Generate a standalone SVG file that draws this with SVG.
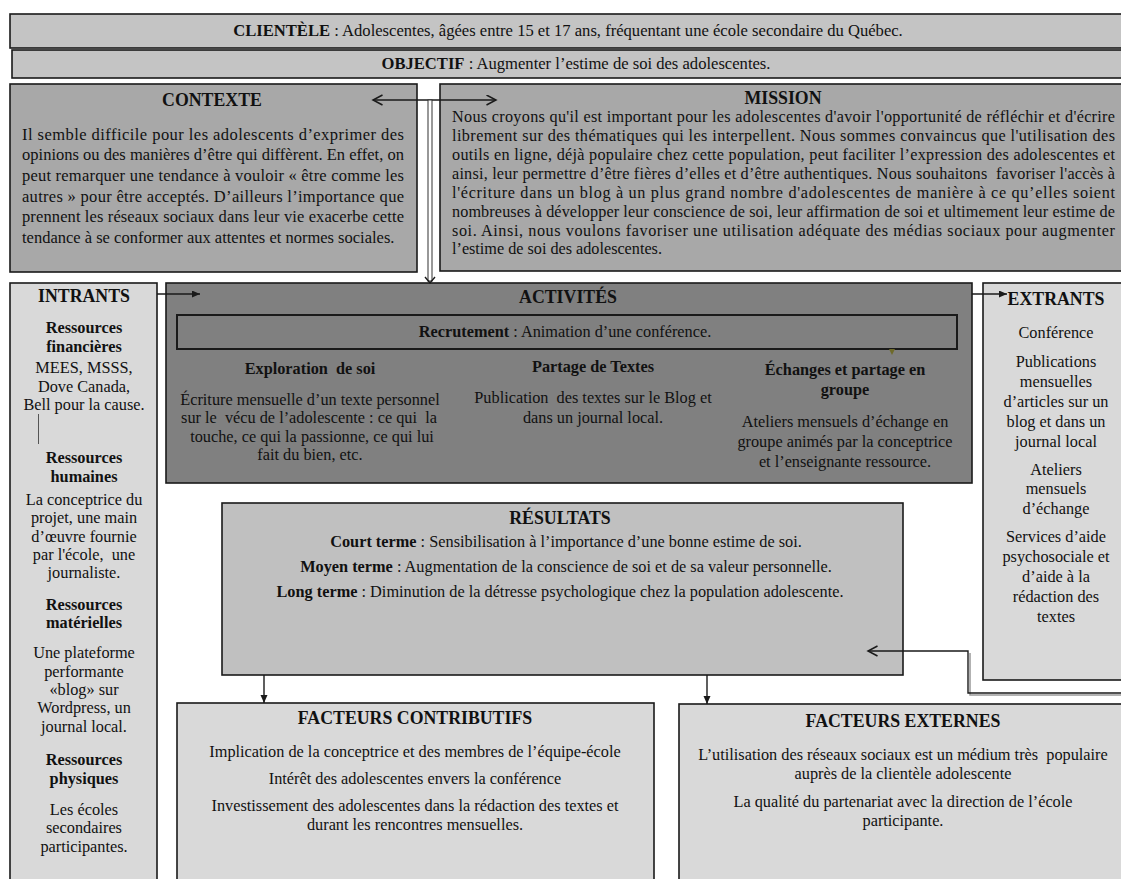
<svg xmlns="http://www.w3.org/2000/svg" width="1121" height="879" viewBox="0 0 1121 879">
<style>
text { font-family: "Liberation Serif", "Times New Roman", serif; fill: #111; white-space: pre; }
.h { font-weight: bold; font-size: 17.8px; }
.t { font-size: 16.3px; }
.tt { font-size: 16.6px; }
.m { font-size: 16.2px; }
.c { font-size: 16.5px; }
.sb { font-weight: bold; font-size: 16.3px; }
.mid { text-anchor: middle; }
.bold { font-weight: bold; }
.box { stroke: #1a1a1a; stroke-width: 1.6; }
.conn { stroke: #1a1a1a; stroke-width: 1.4; fill: none; }
</style>
<defs>
<marker id="fill" markerUnits="userSpaceOnUse" markerWidth="9" markerHeight="8" refX="8" refY="3.5" orient="auto">
<path d="M0,0 L8,3.5 L0,7 z" fill="#1a1a1a"/>
</marker>
<marker id="open" markerUnits="userSpaceOnUse" markerWidth="12" markerHeight="12" refX="10" refY="5.5" orient="auto-start-reverse">
<path d="M0.5,0.5 L10,5.5 L0.5,10.5" fill="none" stroke="#1a1a1a" stroke-width="1.5"/>
</marker>
</defs>
<rect width="1121" height="879" fill="#ffffff"/>

<g id="clientele">
<rect class="box" x="10" y="14" width="1120" height="34" fill="#c4c4c4"/>
<text class="tt mid" x="568" y="36"><tspan class="bold">CLIENTÈLE</tspan> : Adolescentes, âgées entre 15 et 17 ans, fréquentant une école secondaire du Québec.</text>
</g>

<g id="objectif">
<rect class="box" x="12" y="50" width="1120" height="28" fill="#c4c4c4"/>
<text class="tt mid" x="576" y="69"><tspan class="bold">OBJECTIF</tspan> : Augmenter l’estime de soi des adolescentes.</text>
</g>

<g id="contexte">
<rect class="box" x="10" y="84" width="407" height="188" fill="#a8a8a8"/>
<text class="h mid" x="212" y="106">CONTEXTE</text>
<text class="c" x="22" y="140" textLength="382" lengthAdjust="spacing">Il semble difficile pour les adolescents d’exprimer des</text>
<text class="c" x="22" y="160" textLength="382" lengthAdjust="spacing">opinions ou des manières d’être qui diffèrent. En effet, on</text>
<text class="c" x="22" y="181" textLength="382" lengthAdjust="spacing">peut remarquer une tendance à vouloir « être comme les</text>
<text class="c" x="22" y="202" textLength="382" lengthAdjust="spacing">autres » pour être acceptés. D’ailleurs l’importance que</text>
<text class="c" x="22" y="222" textLength="382" lengthAdjust="spacing">prennent les réseaux sociaux dans leur vie exacerbe cette</text>
<text class="c" x="22" y="243">tendance à se conformer aux attentes et normes sociales.</text>
</g>

<g id="mission">
<rect class="box" x="440" y="84" width="690" height="187" fill="#a8a8a8"/>
<text class="h mid" x="783" y="104">MISSION</text>
<text class="m" x="452" y="122" textLength="663" lengthAdjust="spacing">Nous croyons qu'il est important pour les adolescentes d'avoir l'opportunité de réfléchir et d'écrire</text>
<text class="m" x="452" y="141" textLength="663" lengthAdjust="spacing">librement sur des thématiques qui les interpellent. Nous sommes convaincus que l'utilisation des</text>
<text class="m" x="452" y="160" textLength="663" lengthAdjust="spacing">outils en ligne, déjà populaire chez cette population, peut faciliter l’expression des adolescentes et</text>
<text class="m" x="452" y="179" textLength="663" lengthAdjust="spacing">ainsi, leur permettre d’être fières d’elles et d’être authentiques. Nous souhaitons  favoriser l'accès à</text>
<text class="m" x="452" y="198" textLength="663" lengthAdjust="spacing">l'écriture dans un blog à un plus grand nombre d'adolescentes de manière à ce qu’elles soient</text>
<text class="m" x="452" y="217" textLength="663" lengthAdjust="spacing">nombreuses à développer leur conscience de soi, leur affirmation de soi et ultimement leur estime de</text>
<text class="m" x="452" y="236" textLength="663" lengthAdjust="spacing">soi. Ainsi, nous voulons favoriser une utilisation adéquate des médias sociaux pour augmenter</text>
<text class="m" x="452" y="254">l’estime de soi des adolescentes.</text>
</g>

<g id="intrants">
<rect class="box" x="10" y="283" width="147" height="610" fill="#d9d9d9"/>
<text class="h mid" x="84" y="302">INTRANTS</text>
<text class="sb mid" x="84" y="333">Ressources</text>
<text class="sb mid" x="84" y="352">financières</text>
<text class="t mid" x="84" y="373">MEES, MSSS,</text>
<text class="t mid" x="84" y="392">Dove Canada,</text>
<text class="t mid" x="84" y="410">Bell pour la cause.</text>
<line x1="38.5" y1="414" x2="38.5" y2="444" stroke="#555" stroke-width="1"/>
<text class="sb mid" x="84" y="463">Ressources</text>
<text class="sb mid" x="84" y="482">humaines</text>
<text class="t mid" x="84" y="505">La conceptrice du</text>
<text class="t mid" x="84" y="523">projet, une main</text>
<text class="t mid" x="84" y="542">d’œuvre fournie</text>
<text class="t mid" x="84" y="560">par l'école,  une</text>
<text class="t mid" x="84" y="578">journaliste.</text>
<text class="sb mid" x="84" y="610">Ressources</text>
<text class="sb mid" x="84" y="628">matérielles</text>
<text class="t mid" x="84" y="658">Une plateforme</text>
<text class="t mid" x="84" y="677">performante</text>
<text class="t mid" x="84" y="695">«blog» sur</text>
<text class="t mid" x="84" y="713">Wordpress, un</text>
<text class="t mid" x="84" y="732">journal local.</text>
<text class="sb mid" x="84" y="765">Ressources</text>
<text class="sb mid" x="84" y="784">physiques</text>
<text class="t mid" x="84" y="815">Les écoles</text>
<text class="t mid" x="84" y="833">secondaires</text>
<text class="t mid" x="84" y="852">participantes.</text>
</g>

<g id="activites">
<rect class="box" x="166" y="283" width="806" height="200" fill="#808080"/>
<text class="h mid" x="568" y="303">ACTIVITÉS</text>
<rect x="177" y="315" width="780" height="34" fill="none" stroke="#1a1a1a" stroke-width="2"/>
<text class="t mid" x="565" y="337"><tspan class="bold">Recrutement</tspan> : Animation d’une conférence.</text>
<polygon points="889,349 895,349 892,355" fill="#6e6a2a"/>
<text class="sb mid" x="310" y="374">Exploration  de soi</text>
<text class="t mid" x="310" y="405">Écriture mensuelle d’un texte personnel</text>
<text class="t mid" x="309" y="423">sur le  vécu de l’adolescente : ce qui  la</text>
<text class="t mid" x="312" y="442">touche, ce qui la passionne, ce qui lui</text>
<text class="t mid" x="310" y="460">fait du bien, etc.</text>
<text class="sb mid" x="593" y="372">Partage de Textes</text>
<text class="t mid" x="593" y="403">Publication  des textes sur le Blog et</text>
<text class="t mid" x="593" y="423">dans un journal local.</text>
<text class="sb mid" x="845" y="375">Échanges et partage en</text>
<text class="sb mid" x="845" y="395">groupe</text>
<text class="t mid" x="845" y="427">Ateliers mensuels d’échange en</text>
<text class="t mid" x="845" y="447">groupe animés par la conceptrice</text>
<text class="t mid" x="845" y="467">et l’enseignante ressource.</text>
</g>

<g id="extrants">
<rect class="box" x="983" y="283" width="150" height="397" fill="#d9d9d9"/>
<text class="h mid" x="1056" y="305">EXTRANTS</text>
<text class="t mid" x="1056" y="338">Conférence</text>
<text class="t mid" x="1056" y="367">Publications</text>
<text class="t mid" x="1056" y="387">mensuelles</text>
<text class="t mid" x="1056" y="407">d’articles sur un</text>
<text class="t mid" x="1056" y="427">blog et dans un</text>
<text class="t mid" x="1056" y="447">journal local</text>
<text class="t mid" x="1056" y="475">Ateliers</text>
<text class="t mid" x="1056" y="494">mensuels</text>
<text class="t mid" x="1056" y="514">d’échange</text>
<text class="t mid" x="1056" y="542">Services d’aide</text>
<text class="t mid" x="1056" y="562">psychosociale et</text>
<text class="t mid" x="1056" y="582">d’aide à la</text>
<text class="t mid" x="1056" y="602">rédaction des</text>
<text class="t mid" x="1056" y="622">textes</text>
</g>

<g id="resultats">
<rect class="box" x="222" y="503" width="681" height="172" fill="#c0c0c0"/>
<text class="h mid" x="560" y="524">RÉSULTATS</text>
<text class="t mid" x="566" y="547"><tspan class="bold">Court terme</tspan> : Sensibilisation à l’importance d’une bonne estime de soi.</text>
<text class="t mid" x="566" y="572"><tspan class="bold">Moyen terme</tspan> : Augmentation de la conscience de soi et de sa valeur personnelle.</text>
<text class="t mid" x="560" y="597"><tspan class="bold">Long terme</tspan> : Diminution de la détresse psychologique chez la population adolescente.</text>
</g>

<g id="facteurs-contributifs">
<rect class="box" x="177" y="703" width="477" height="190" fill="#d9d9d9"/>
<text class="h mid" x="415" y="724">FACTEURS CONTRIBUTIFS</text>
<text class="t mid" x="415" y="757">Implication de la conceptrice et des membres de l’équipe-école</text>
<text class="t mid" x="415" y="784">Intérêt des adolescentes envers la conférence</text>
<text class="t mid" x="415" y="811">Investissement des adolescentes dans la rédaction des textes et</text>
<text class="t mid" x="415" y="830">durant les rencontres mensuelles.</text>
</g>

<g id="facteurs-externes">
<rect class="box" x="679" y="704" width="460" height="190" fill="#d9d9d9"/>
<text class="h mid" x="903" y="727">FACTEURS EXTERNES</text>
<text class="t mid" x="903" y="760">L’utilisation des réseaux sociaux est un médium très  populaire</text>
<text class="t mid" x="903" y="779">auprès de la clientèle adolescente</text>
<text class="t mid" x="903" y="807">La qualité du partenariat avec la direction de l’école</text>
<text class="t mid" x="903" y="826">participante.</text>
</g>

<g id="connectors">
<line class="conn" x1="373" y1="100" x2="496" y2="100" marker-start="url(#open)" marker-end="url(#open)"/>
<rect x="428" y="100" width="4" height="181" fill="#ffffff" stroke="#333" stroke-width="1"/>
<polyline points="425,277 430,283 435,277" fill="none" stroke="#1a1a1a" stroke-width="1.4"/>
<line class="conn" x1="157" y1="294" x2="200" y2="294" marker-end="url(#fill)"/>
<line class="conn" x1="972" y1="294" x2="1007" y2="294" marker-end="url(#fill)"/>
<polyline points="1121,695 970,695 970,653" fill="none" stroke="#999" stroke-width="1.5"/>
<polyline class="conn" points="1121,693 968,693 968,651 868,651" marker-end="url(#open)"/>
<line class="conn" x1="264" y1="675" x2="264" y2="703" marker-end="url(#fill)"/>
<line class="conn" x1="707" y1="675" x2="707" y2="704" marker-end="url(#fill)"/>
</g>
</svg>
